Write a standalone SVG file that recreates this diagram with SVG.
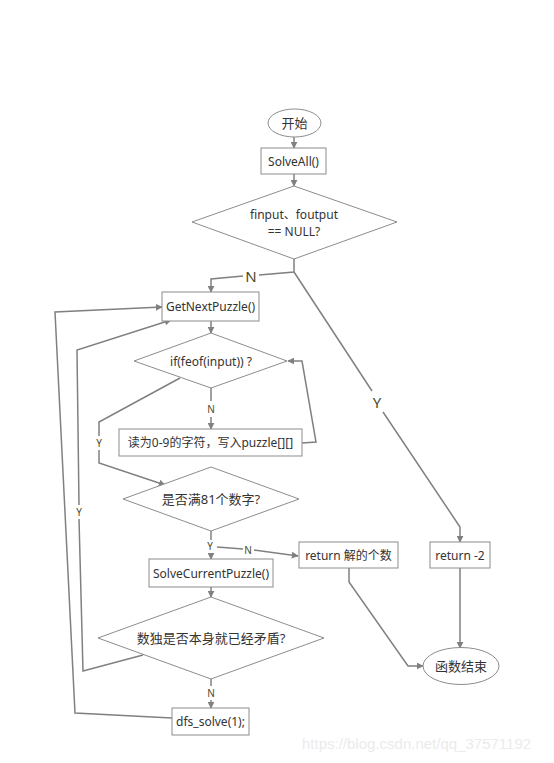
<svg xmlns="http://www.w3.org/2000/svg" width="554" height="763" viewBox="0 0 554 763">
<style>
.shape{fill:#fff;stroke:#8c8c8c;stroke-width:1}
.t{font-family:"Noto Sans","Noto Sans CJK SC",sans-serif;font-size:12px;fill:#333;text-anchor:middle;dominant-baseline:central}
.cjk{font-size:13px}
.lbl{font-family:"Noto Sans","Noto Sans CJK SC",sans-serif;font-size:10px;fill:#4a4a2a;text-anchor:middle;dominant-baseline:central}
.big{font-size:15px}
.ln{fill:none;stroke:#808080;stroke-width:1.5}
.wm{font-family:"Liberation Sans",sans-serif;font-size:15px;fill:#ebebeb}
</style>
<defs>
<marker id="ah" viewBox="0 0 10 10" refX="9" refY="5" markerWidth="7" markerHeight="7" markerUnits="userSpaceOnUse" orient="auto">
<path d="M0,0 L10,5 L0,10 z" fill="#808080"/>
</marker>
</defs>
<rect width="554" height="763" fill="#fff"/>
<g id="connectors">
<path class="ln" marker-end="url(#ah)" d="M294,137 V148"/>
<path class="ln" marker-end="url(#ah)" d="M294,174 V186"/>
<path class="ln" d="M294,259 V272 L259,275"/>
<path class="ln" marker-end="url(#ah)" d="M243,276 L211,279 V292"/>
<path class="ln" d="M294,272 L372,391"/>
<path class="ln" marker-end="url(#ah)" d="M383,412 L460,527 V542"/>
<path class="ln" marker-end="url(#ah)" d="M211,321 V333"/>
<path class="ln" d="M211,388 V401"/>
<path class="ln" marker-end="url(#ah)" d="M211,417 V429"/>
<path class="ln" marker-end="url(#ah)" d="M302,443 L316,442 L302,361 L288,361"/>
<path class="ln" d="M180,378 L99,422 V436"/>
<path class="ln" marker-end="url(#ah)" d="M99,450 V463 L165,485"/>
<path class="ln" d="M211,531 V540"/>
<path class="ln" marker-end="url(#ah)" d="M211,553 V559"/>
<path class="ln" d="M217,547 L243,549"/>
<path class="ln" marker-end="url(#ah)" d="M254,550 L298,556"/>
<path class="ln" marker-end="url(#ah)" d="M211,587 V597"/>
<path class="ln" d="M211,679 V686"/>
<path class="ln" marker-end="url(#ah)" d="M211,700 V708"/>
<path class="ln" d="M143,655 L83,671 L79,519"/>
<path class="ln" marker-end="url(#ah)" d="M79,505 L77,350 L171,320"/>
<path class="ln" marker-end="url(#ah)" d="M172,718 L75,713 L55,312 L162,307"/>
<path class="ln" marker-end="url(#ah)" d="M349,568 V582 L408,666 H423"/>
<path class="ln" marker-end="url(#ah)" d="M460,568 V648"/>
</g>
<g id="labels">
<text class="lbl big" x="251" y="276">N</text>
<text class="lbl big" x="377" y="402">Y</text>
<text class="lbl" x="211" y="409">N</text>
<text class="lbl" x="99" y="443">Y</text>
<text class="lbl" x="210" y="546">Y</text>
<text class="lbl" x="248" y="550">N</text>
<text class="lbl" x="211" y="693">N</text>
<text class="lbl" x="79" y="512">Y</text>
</g>
<g id="start"><ellipse class="shape" cx="294.5" cy="123" rx="26.5" ry="14"/><text class="t cjk" x="294.5" y="123">开始</text></g>
<g id="solveall"><rect class="shape" x="261" y="148" width="65" height="26"/><text class="t" x="293.5" y="161">SolveAll()</text></g>
<g id="nullcheck"><polygon class="shape" points="294,186 397,222 294,259 192,222"/><text class="t" x="294" y="214">finput、foutput</text><text class="t" x="294" y="231">== NULL?</text></g>
<g id="getnext"><rect class="shape" x="162" y="292" width="97" height="29"/><text class="t" x="210.5" y="306.5">GetNextPuzzle()</text></g>
<g id="feof"><polygon class="shape" points="211,333 287,361 211,388 134,361"/><text class="t" x="211" y="361">if(feof(input)) ?</text></g>
<g id="read"><rect class="shape" x="119" y="429" width="183" height="27"/><text class="t" x="210.5" y="442.5" font-size="12.5">读为0-9的字符，写入puzzle[][]</text></g>
<g id="full81"><polygon class="shape" points="211,467 299,499 211,531 123,499"/><text class="t cjk" x="211" y="499">是否满81个数字?</text></g>
<g id="solvecur"><rect class="shape" x="149" y="559" width="124" height="28"/><text class="t" x="211" y="573">SolveCurrentPuzzle()</text></g>
<g id="contradict"><polygon class="shape" points="211,597 324,638 211,679 98,638"/><text class="t cjk" x="211" y="638">数独是否本身就已经矛盾?</text></g>
<g id="dfs"><rect class="shape" x="172" y="708" width="77" height="27"/><text class="t" x="210.5" y="721.5">dfs_solve(1);</text></g>
<g id="retcount"><rect class="shape" x="299" y="542" width="99" height="26"/><text class="t" x="348.5" y="555">return 解的个数</text></g>
<g id="retneg"><rect class="shape" x="430" y="542" width="60" height="26"/><text class="t" x="460" y="555">return -2</text></g>
<g id="end"><ellipse class="shape" cx="461" cy="666" rx="38" ry="18.5"/><text class="t cjk" x="461" y="666">函数结束</text></g>
<text class="wm" x="302" y="749">https://blog.csdn.net/qq_37571192</text>
</svg>
